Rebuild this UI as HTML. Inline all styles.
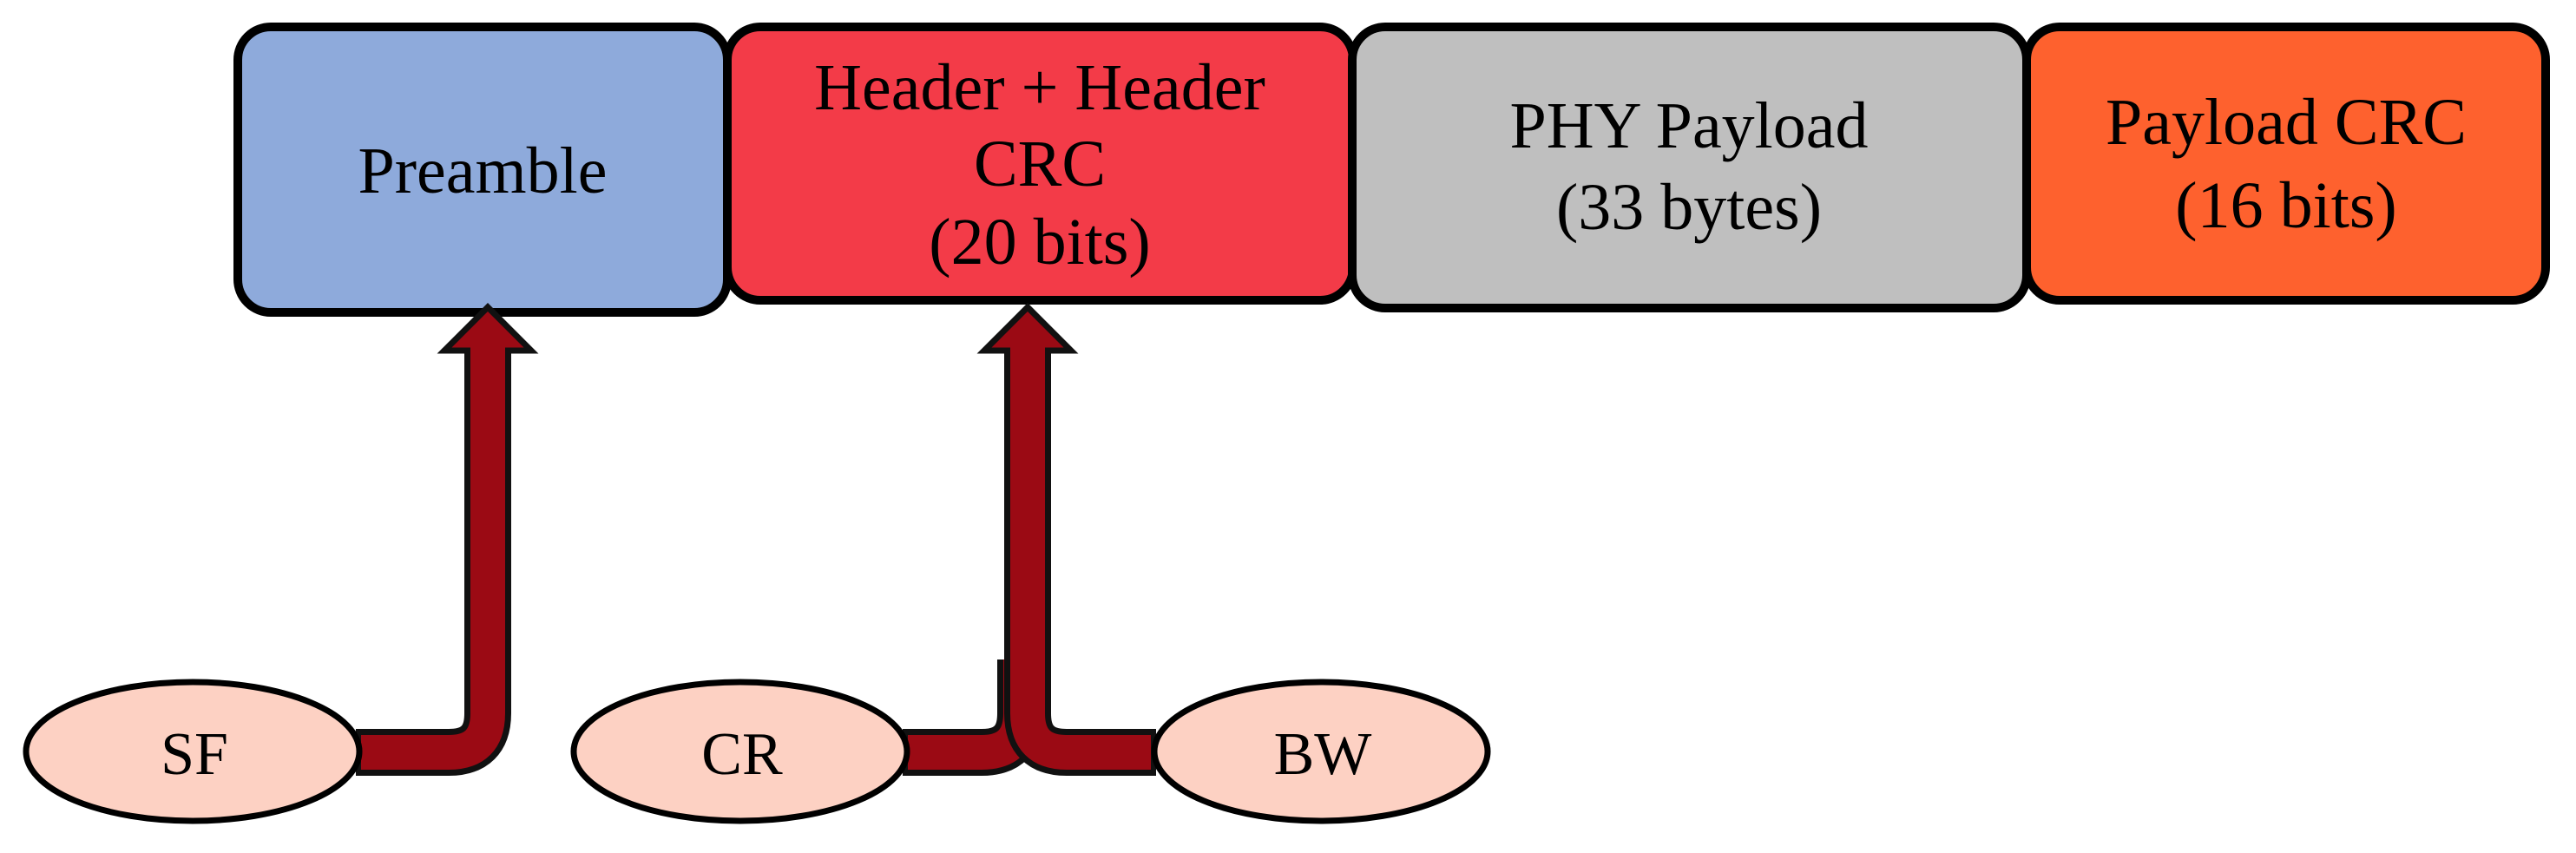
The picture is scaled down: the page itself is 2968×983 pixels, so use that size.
<!DOCTYPE html>
<html><head><meta charset="utf-8"><style>
html,body{margin:0;padding:0;background:#fff;}
svg{display:block;}
text{font-family:"Liberation Serif",serif;fill:#000;}
</style></head><body>
<svg width="2968" height="983" viewBox="0 0 2968 983" xmlns="http://www.w3.org/2000/svg">
<!-- boxes -->
<rect x="274" y="31" width="564" height="329" rx="38" fill="#8eaadb" stroke="#000" stroke-width="10"/>
<rect x="838" y="31" width="721" height="315" rx="38" fill="#f33b48" stroke="#000" stroke-width="10"/>
<rect x="1558" y="31" width="777" height="324" rx="38" fill="#bfbfbf" stroke="#000" stroke-width="10"/>
<rect x="2335" y="31" width="598" height="315" rx="38" fill="#fe612e" stroke="#000" stroke-width="10"/>

<g font-size="76" text-anchor="middle">
<text x="556" y="222">Preamble</text>
<text x="1198" y="126">Header + Header</text>
<text x="1198" y="214">CRC</text>
<text x="1198" y="304">(20 bits)</text>
<text x="1946" y="170">PHY Payload</text>
<text x="1946" y="264">(33 bytes)</text>
<text x="2634" y="166">Payload CRC</text>
<text x="2634" y="262">(16 bits)</text>
</g>

<!-- SF arrow -->
<path d="M 410 867 L 517 867 Q 562 867 562 822 L 562 402" fill="none" stroke="#111" stroke-width="54"/>
<polygon points="562,354 512,404 612,404" fill="#9b0a14" stroke="#111" stroke-width="7" stroke-linejoin="miter"/>
<path d="M 416 867 L 517 867 Q 562 867 562 822 L 562 400" fill="none" stroke="#9b0a14" stroke-width="40"/>

<!-- CR arrow (behind) -->
<path d="M 1040 867 L 1131 867 Q 1176 867 1176 822 L 1176 760" fill="none" stroke="#111" stroke-width="54"/>
<path d="M 1046 867 L 1131 867 Q 1176 867 1176 822 L 1176 760" fill="none" stroke="#9b0a14" stroke-width="40"/>
<!-- BW / main shaft -->
<path d="M 1332 867 L 1229 867 Q 1184 867 1184 822 L 1184 402" fill="none" stroke="#111" stroke-width="54"/>
<polygon points="1184,354 1134,404 1234,404" fill="#9b0a14" stroke="#111" stroke-width="7" stroke-linejoin="miter"/>
<path d="M 1326 867 L 1229 867 Q 1184 867 1184 822 L 1184 400" fill="none" stroke="#9b0a14" stroke-width="40"/>

<!-- ellipses -->
<ellipse cx="222" cy="866" rx="192" ry="80" fill="#fdd1c3" stroke="#000" stroke-width="7"/>
<ellipse cx="853" cy="866" rx="192" ry="80" fill="#fdd1c3" stroke="#000" stroke-width="7"/>
<ellipse cx="1522" cy="866" rx="192" ry="80" fill="#fdd1c3" stroke="#000" stroke-width="7"/>
<g font-size="70" text-anchor="middle">
<text x="224" y="892">SF</text>
<text x="855" y="892">CR</text>
<text x="1524" y="892">BW</text>
</g>
</svg>
</body></html>
